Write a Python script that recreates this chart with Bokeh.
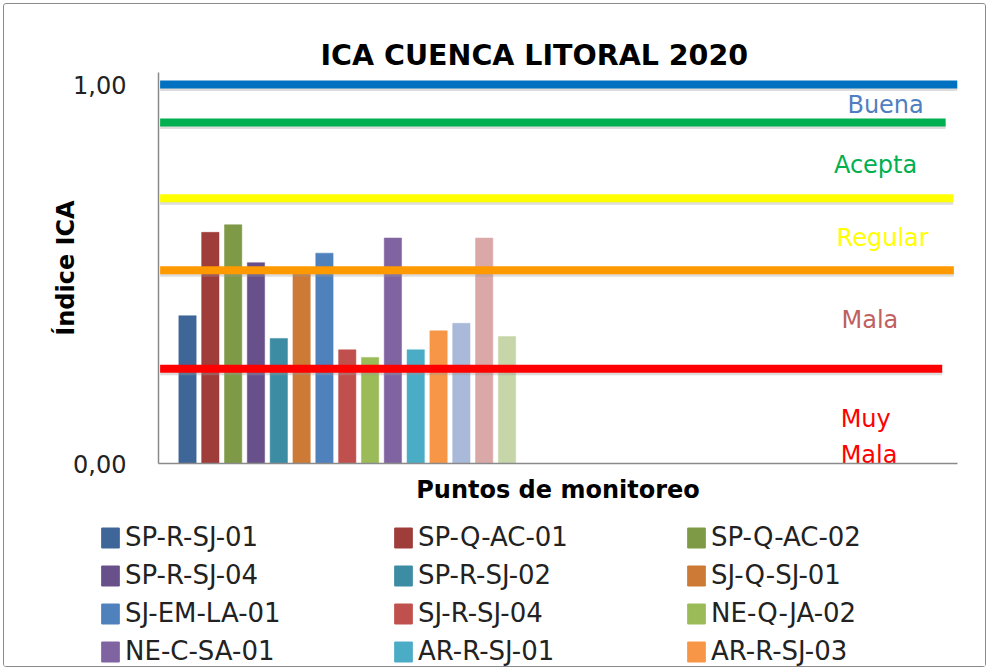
from bokeh.plotting import figure
from bokeh.layouts import column
from bokeh.models import Range1d, FixedTicker, Legend, LegendItem
from bokeh.core.properties import value
from bokeh.embed import file_html
from bokeh.resources import INLINE

# ---------------- data ----------------
chart_title = "ICA CUENCA LITORAL 2020"
x_title = "Puntos de monitoreo"
y_title = "Índice ICA"

stations = ["SP-R-SJ-01", "SP-Q-AC-01", "SP-Q-AC-02",
            "SP-R-SJ-04", "SP-R-SJ-02", "SJ-Q-SJ-01",
            "SJ-EM-LA-01", "SJ-R-SJ-04", "NE-Q-JA-02",
            "NE-C-SA-01", "AR-R-SJ-01", "AR-R-SJ-03"]
ica_values = [0.39, 0.61, 0.63, 0.53, 0.33, 0.51, 0.555, 0.30,
              0.28, 0.595, 0.30, 0.35, 0.37, 0.595, 0.335]
bar_colors = ["#3e6698", "#9e3d3a", "#7e9a46", "#68508a", "#3c8ca3",
              "#cc7a35", "#4f81bd", "#c0504d", "#9bbb59", "#8064a2",
              "#4bacc6", "#f79646", "#a8b9d9", "#dba8a8", "#c6d6a9"]

threshold_values = [1.00, 0.90, 0.70, 0.51, 0.25]
threshold_colors = ["#0070c0", "#00b050", "#ffff00", "#ff9900", "#ff0000"]

band_labels = ["Buena", "Acepta", "Regular", "Mala", "Muy", "Mala"]
band_colors = ["#4f7fc0", "#00b050", "#ffff00", "#c06060", "#ff0000", "#ff0000"]

y_tick_values = [0, 1]
y_tick_labels = ["0,00", "1,00"]

# ---------------- main figure ----------------
FONT = "DejaVu Sans"
W = 981

p = figure(width=W, height=506, output_backend="svg", toolbar_location=None,
           x_range=Range1d(-1.271, 33.74), y_range=Range1d(0, 1.0317),
           min_border_left=154, min_border_right=28,
           min_border_top=68, min_border_bottom=47)
p.frame_align = False
p.background_fill_color = "white"
p.border_fill_color = "white"
p.outline_line_color = None
p.xgrid.visible = False
p.ygrid.visible = False

# title
p.title.text = chart_title
p.title.text_font = FONT
p.title.text_font_style = "bold"
p.title.text_font_size = "28.5px"
p.title.text_color = "#000000"
p.title.align = "left"
p.title.offset = 162
p.title.standoff = 1

# y axis
yax = p.yaxis[0]
yax.ticker = FixedTicker(ticks=y_tick_values)
yax.major_label_overrides = {t: l for t, l in zip(y_tick_values, y_tick_labels)}
yax.major_label_text_font = FONT
yax.major_label_text_font_size = "24px"
yax.major_label_text_color = "#222222"
yax.major_tick_out = 0
yax.major_tick_in = 0
yax.minor_tick_out = 0
yax.minor_tick_in = 0
yax.major_label_standoff = 32
yax.axis_line_color = "#8a8a8a"
yax.axis_line_width = 1.5
yax.axis_label = y_title
yax.axis_label_text_font = FONT
yax.axis_label_text_font_style = "bold"
yax.axis_label_text_font_size = "24px"
yax.axis_label_text_color = "#000000"
yax.axis_label_standoff = -10

# x axis
xax = p.xaxis[0]
xax.ticker = FixedTicker(ticks=[])
xax.major_tick_out = 0
xax.major_tick_in = 0
xax.minor_tick_out = 0
xax.minor_tick_in = 0
xax.axis_line_color = "#8a8a8a"
xax.axis_line_width = 1.5
xax.axis_label = x_title
xax.axis_label_text_font = FONT
xax.axis_label_text_font_style = "bold"
xax.axis_label_text_font_size = "24px"
xax.axis_label_text_color = "#000000"
xax.axis_label_standoff = 12

# bars
for i, (v, c) in enumerate(zip(ica_values, bar_colors)):
    p.vbar(x=[i], top=[v], bottom=0, width=0.76,
           fill_color=c, line_color=c, line_width=0.5)

# threshold lines (with soft shadow)
line_ends = [33.74, 33.22, 33.55, 33.58, 33.07]
for y, c, xe in zip(threshold_values, threshold_colors, line_ends):
    p.line(x=[-1.2, xe], y=[y - 0.008, y - 0.008], line_color="#9a9a9a",
           line_width=7, line_alpha=0.35)
    p.line(x=[-1.2, xe], y=[y, y], line_color=c, line_width=8)

# band labels
band_x = [30.59, 30.15, 30.46, 29.9, 28.62, 28.62]
band_y = [0.946, 0.788, 0.595, 0.379, 0.118, 0.023]
band_align = ["center", "center", "center", "center", "left", "left"]
for t, c, bx, by, al in zip(band_labels, band_colors, band_x, band_y, band_align):
    p.text(x=[bx], y=[by], text=[t], text_color=c,
           text_font=value(FONT), text_font_size=value("24px"),
           text_align=al, text_baseline="middle")

# ---------------- legend strip ----------------
q = figure(width=W, height=156, output_backend="svg", toolbar_location=None,
           x_range=Range1d(-1, 12), y_range=Range1d(10, 11),
           min_border=0, min_border_left=0, min_border_right=0,
           min_border_top=0, min_border_bottom=0)
q.frame_align = False
q.axis.visible = False
q.grid.visible = False
q.outline_line_color = None
q.background_fill_color = "white"
q.border_fill_color = "white"

# proxy renderers (below the visible range) that carry the legend swatches
proxies = []
for i, (name, c) in enumerate(zip(stations, bar_colors)):
    r = q.vbar(x=[i], top=[ica_values[i]], width=0.76, fill_color=c, line_color=c)
    proxies.append(LegendItem(label=name, renderers=[r]))

# legend fills column by column: reorder so reading is row by row (3 per row)
nrows = 4
ncols = 3
order = [r * ncols + c for c in range(ncols) for r in range(nrows)]
items = [proxies[k] for k in order]

legend = Legend(items=items, ncols=ncols, location=(95, 0),
                glyph_width=22, glyph_height=25, label_standoff=4,
                label_width=259, label_height=30, spacing=8, padding=0,
                margin=0, border_line_color=None, background_fill_alpha=0,
                label_text_font=FONT, label_text_font_size="26px",
                label_text_color="#222222")
q.add_layout(legend, "center")

layout = column(p, q, spacing=0)
layout.styles = {"border": "1px solid #8a8a8a", "border-radius": "3px",
                 "margin-left": "3px", "margin-top": "3px"}

open("out.html", "w").write(file_html(layout, INLINE))
